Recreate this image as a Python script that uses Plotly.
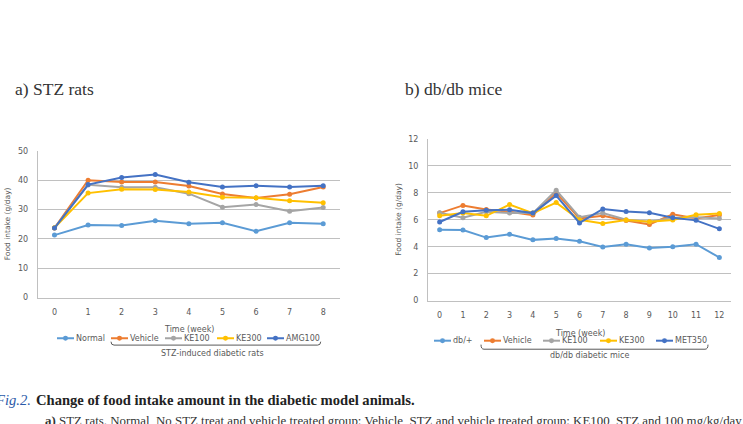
import plotly.graph_objects as go

W, H = 743, 424

# ---------------- data ----------------
weeks_a = [0, 1, 2, 3, 4, 5, 6, 7, 8]
normal_a = [21.3, 24.7, 24.6, 26.2, 25.2, 25.5, 22.6, 25.5, 25.2]
vehicle_a = [23.7, 40.0, 39.4, 39.4, 38.0, 35.3, 33.9, 35.2, 37.7]
ke100_a = [23.7, 38.4, 37.6, 37.6, 35.4, 30.8, 31.7, 29.4, 30.7]
ke300_a = [23.8, 35.6, 36.9, 36.8, 36.0, 34.2, 34.0, 33.0, 32.3]
amg100_a = [23.7, 38.5, 40.9, 41.9, 39.3, 37.7, 38.1, 37.7, 38.1]
names_a = ["Normal", "Vehicle", "KE100", "KE300", "AMG100"]

weeks_b = [0, 1, 2, 3, 4, 5, 6, 7, 8, 9, 10, 11, 12]
dbplus_b = [5.26, 5.24, 4.68, 4.92, 4.51, 4.61, 4.41, 3.98, 4.19, 3.90, 4.00, 4.19, 3.20]
vehicle_b = [6.50, 7.07, 6.76, 6.60, 6.35, 8.00, 6.10, 6.30, 5.95, 5.65, 6.42, 6.10, 6.35]
ke100_b = [6.52, 6.15, 6.60, 6.50, 6.50, 8.20, 6.20, 6.50, 6.00, 5.85, 6.15, 6.20, 6.10]
ke300_b = [6.30, 6.50, 6.30, 7.13, 6.50, 7.28, 6.00, 5.72, 5.98, 5.85, 5.98, 6.38, 6.47]
met350_b = [5.84, 6.60, 6.71, 6.75, 6.50, 7.80, 5.77, 6.81, 6.62, 6.52, 6.16, 5.96, 5.33]
names_b = ["db/+", "Vehicle", "KE100", "KE300", "MET350"]

colors = ["#5B9BD5", "#ED7D31", "#A5A5A5", "#FFC000", "#4472C4"]

def X(px):
    return px / W

def Y(py):
    return 1 - py / H

fig = go.Figure()

series_a = [normal_a, vehicle_a, ke100_a, ke300_a, amg100_a]
series_b = [dbplus_b, vehicle_b, ke100_b, ke300_b, met350_b]

for name, vals, c in zip(names_a, series_a, colors):
    fig.add_trace(go.Scatter(x=weeks_a, y=vals, name=name, mode="lines+markers",
                             line=dict(color=c, width=2), marker=dict(color=c, size=5),
                             xaxis="x", yaxis="y"))
for name, vals, c in zip(names_b, series_b, colors):
    fig.add_trace(go.Scatter(x=weeks_b, y=vals, name=name, mode="lines+markers",
                             line=dict(color=c, width=2), marker=dict(color=c, size=5),
                             xaxis="x2", yaxis="y2"))

tickfont = dict(family="DejaVu Sans", size=8, color="#595959")
grid = "#c0c0c0"

axis_common_x = dict(showgrid=False, showline=True, linecolor=grid, linewidth=1,
                     ticks="", tickfont=tickfont, zeroline=False, fixedrange=True,
                     ticklabelstandoff=7)
axis_common_y = dict(showgrid=True, gridcolor=grid, gridwidth=1, showline=True,
                     linecolor=grid, linewidth=1, ticks="", tickfont=tickfont,
                     zeroline=False, fixedrange=True, ticklabelstandoff=7)

fig.update_layout(
    width=W, height=H, margin=dict(l=0, r=0, t=0, b=0),
    paper_bgcolor="white", plot_bgcolor="white", showlegend=False, hovermode=False,
    xaxis=dict(domain=[X(37.7), X(340)], range=[-0.5, 8.5], tickvals=weeks_a,
               anchor="y", **axis_common_x),
    yaxis=dict(domain=[Y(300), Y(150)], range=[0, 50], dtick=10, anchor="x",
               **axis_common_y),
    xaxis2=dict(domain=[X(428), X(731)], range=[-0.5, 12.5], tickvals=weeks_b,
                anchor="y2", **axis_common_x),
    yaxis2=dict(domain=[Y(303), Y(138)], range=[0, 12], dtick=2, anchor="x2",
                **axis_common_y),
)

ann = []
shapes = []
txtfont = dict(family="DejaVu Sans", size=8, color="#595959")

def add_text(x, y, text, font, xanchor="center", **kw):
    ann.append(dict(x=X(x), y=Y(y), xref="paper", yref="paper", text=text,
                    xanchor=xanchor, yanchor="middle", showarrow=False, font=font, **kw))

# axis titles
ytfont = dict(family="DejaVu Sans", size=7.5, color="#595959")
add_text(7, 225, "Food intake (g/day)", ytfont, textangle=-90)
add_text(399, 220.5, "Food intake (g/day)", ytfont, textangle=-90)
add_text(189, 333, "Time (week)", txtfont)
add_text(580, 337, "Time (week)", txtfont)

# panel titles
titlefont = dict(family="Liberation Serif", size=17.5, color="#333333")
add_text(13, 87, "a) STZ rats", titlefont, xanchor="left")
add_text(403, 87, "b) db/db mice", titlefont, xanchor="left")

# manual legends
def legend_item(x0, y, color, label):
    shapes.append(dict(type="line", xref="paper", yref="paper", x0=X(x0), x1=X(x0 + 17),
                       y0=Y(y), y1=Y(y), line=dict(color=color, width=2)))
    cx = x0 + 8.5
    shapes.append(dict(type="circle", xref="paper", yref="paper", x0=X(cx - 2.5), x1=X(cx + 2.5),
                       y0=Y(y + 2.5), y1=Y(y - 2.5), fillcolor=color, line=dict(color=color, width=0)))
    add_text(x0 + 16.5, y, label, txtfont, xanchor="left")

for x0, name, c in zip([57, 111, 165, 217, 267], names_a, colors):
    legend_item(x0, 341.5, c, name)
for x0, name, c in zip([434, 484, 543, 600, 656], names_b, colors):
    legend_item(x0, 344, c, name)

# brackets
def bracket(xl, xr, ytop, ybot):
    path = (f"M {X(xl)} {Y(ytop)} Q {X(xl)} {Y(ybot)} {X(xl + 3)} {Y(ybot)} "
            f"L {X(xr - 3)} {Y(ybot)} Q {X(xr)} {Y(ybot)} {X(xr)} {Y(ytop)}")
    shapes.append(dict(type="path", xref="paper", yref="paper", path=path,
                       line=dict(color="#595959", width=1)))

bracket(111, 320.7, 345, 348.5)
bracket(481, 708, 348, 352.7)
add_text(212.5, 356.7, "STZ-induced diabetic rats", txtfont)
add_text(589, 359.5, "db/db diabetic mice", txtfont)

# caption
add_text(33, 405, "<i>Fig.2.</i>", dict(family="Liberation Serif", size=14.6, color="#2b5aa8"),
         xanchor="right")
add_text(34, 405, "<b>Change of food intake amount in the diabetic model animals.</b>",
         dict(family="Liberation Serif", size=14.6, color="#222222"), xanchor="left")
add_text(43, 426,
         "<b>a)</b> STZ rats. Normal, No STZ treat and vehicle treated group; Vehicle, STZ and vehicle treated group; KE100, STZ and 100 mg/kg/day",
         dict(family="Liberation Serif", size=12.9, color="#333333"), xanchor="left")

fig.update_layout(annotations=ann, shapes=shapes)
fig.write_html("out.html")
